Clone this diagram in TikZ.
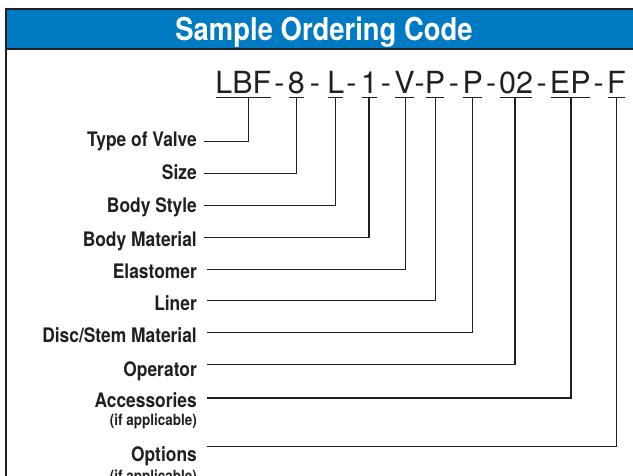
\documentclass[tikz,border=0pt]{standalone}
\usepackage{fontspec}
\setmainfont{TeX Gyre Heros}
\newfontfamily\condfont{TeX Gyre Heros}[FakeStretch=0.87]
\newfontfamily\codefont{TeX Gyre Heros}
\definecolor{hblue}{RGB}{0,122,194}
\definecolor{ink}{RGB}{35,31,32}
\tikzset{
  bord/.style={draw=ink, line width=2pt},
  lab/.style={anchor=base east, inner sep=0pt, text=ink, font=\condfont\bfseries\fontsize{20}{24}\selectfont},
  sublab/.style={anchor=base east, inner sep=0pt, text=ink, font=\condfont\bfseries\fontsize{15.5}{18}\selectfont},
  titletext/.style={anchor=base, inner sep=0pt, text=white, font=\condfont\bfseries\fontsize{31.5}{36}\selectfont},
  codegrp/.style={anchor=base, inner sep=0pt, text=ink, font=\codefont\fontsize{30.5}{36}\selectfont},
  uline/.style={draw=ink, line width=1.3pt, shorten <=1pt, shorten >=1pt},
  conn/.style={draw=ink, line width=1.4pt}
}
\begin{document}
\begin{tikzpicture}[x=1pt,y=-1pt]
\clip (0,0) rectangle (633,476);
\fill[white] (0,0) rectangle (633,476);
% header band and frame
\fill[hblue] (6,9.5) rectangle (660,49);
\draw[bord] (6,9.5) -- (660,9.5);
\draw[bord] (6,49) -- (660,49);
\draw[bord] (6,8.5) -- (6,500);
\node[titletext] (title) at (324,41) {Sample Ordering Code};

% code groups
\node[codegrp] (gLBF) at (243.4,93.5) {LBF};
\node[codegrp] (h1) at (279.5,93.5) {-};
\node[codegrp] (g8) at (296.4,93.5) {8};
\node[codegrp] (h2) at (314.9,93.5) {-};
\node[codegrp] (gL) at (335.8,93.5) {L};
\node[codegrp] (h3) at (351.4,93.5) {-};
\node[codegrp] (g1) at (369.3,93.5) {1};
\node[codegrp] (h4) at (386,93.5) {-};
\node[codegrp] (gV) at (404.5,93.5) {V};
\node[codegrp] (h5) at (419.8,93.5) {-};
\node[codegrp] (gP) at (435,93.5) {P};
\node[codegrp] (h6) at (453.9,93.5) {-};
\node[codegrp] (gPP) at (472.8,93.5) {P};
\node[codegrp] (h7) at (491.2,93.5) {-};
\node[codegrp] (g02) at (516.2,93.5) {02};
\node[codegrp] (h8) at (541.6,93.5) {-};
\node[codegrp] (gEP) at (570.3,93.5) {EP};
\node[codegrp] (h9) at (598.8,93.5) {-};
\node[codegrp] (gF) at (616.5,93.5) {F};

\foreach \g in {gLBF,g8,gL,g1,gV,gP,gPP,g02,gEP,gF}
  \draw[uline] ([yshift=-3.8pt]\g.base west) -- ([yshift=-3.8pt]\g.base east);

% attach points under the underlines
\coordinate (aLBF) at (248.3,97.3);
\coordinate (a8) at (296.5,97.3);
\coordinate (aL) at (335.5,97.3);
\coordinate (a1) at (369,97.3);
\coordinate (aV) at (405.3,97.3);
\coordinate (aP) at (435.7,97.3);
\coordinate (aPP) at (472.7,97.3);
\coordinate (a02) at (515,97.3);
\coordinate (aEP) at (571,97.3);
\coordinate (aF) at (616.5,97.3);

% labels
\node[lab] (lType) at (197,146.7) {Type of Valve};
\node[lab] (lSize) at (197,180) {Size};
\node[lab] (lBStyle) at (197,213) {Body Style};
\node[lab] (lBMat) at (197,246.5) {Body Material};
\node[lab] (lElast) at (197,278.5) {Elastomer};
\node[lab] (lLiner) at (197,311) {Liner};
\node[lab] (lDisc) at (197,343) {Disc/Stem Material};
\node[lab] (lOper) at (197,377) {Operator};
\node[lab] (lAcc) at (197,407) {Accessories};
\node[sublab] (lAccSub) at (197,425.5) {(if applicable)};
\node[lab] (lOpt) at (197,461.5) {Options};
\node[sublab] (lOptSub) at (197,481) {(if applicable)};

% connector start points
\coordinate (sType) at (204,141.7);
\coordinate (sSize) at (204,173.3);
\coordinate (sBStyle) at (204,205.7);
\coordinate (sBMat) at (204,237.3);
\coordinate (sElast) at (206.5,269.3);
\coordinate (sLiner) at (206.5,300.8);
\coordinate (sDisc) at (206.5,332.7);
\coordinate (sOper) at (206.5,364.8);
\coordinate (sAcc) at (206.5,397.8);
\coordinate (sOpt) at (206.5,446.7);

\draw[conn] (sType) -| (aLBF);
\draw[conn] (sSize) -| (a8);
\draw[conn] (sBStyle) -| (aL);
\draw[conn] (sBMat) -| (a1);
\draw[conn] (sElast) -| (aV);
\draw[conn] (sLiner) -| (aP);
\draw[conn] (sDisc) -| (aPP);
\draw[conn] (sOper) -| (a02);
\draw[conn] (sAcc) -| (aEP);
\draw[conn] (sOpt) -| (aF);
\end{tikzpicture}
\end{document}
